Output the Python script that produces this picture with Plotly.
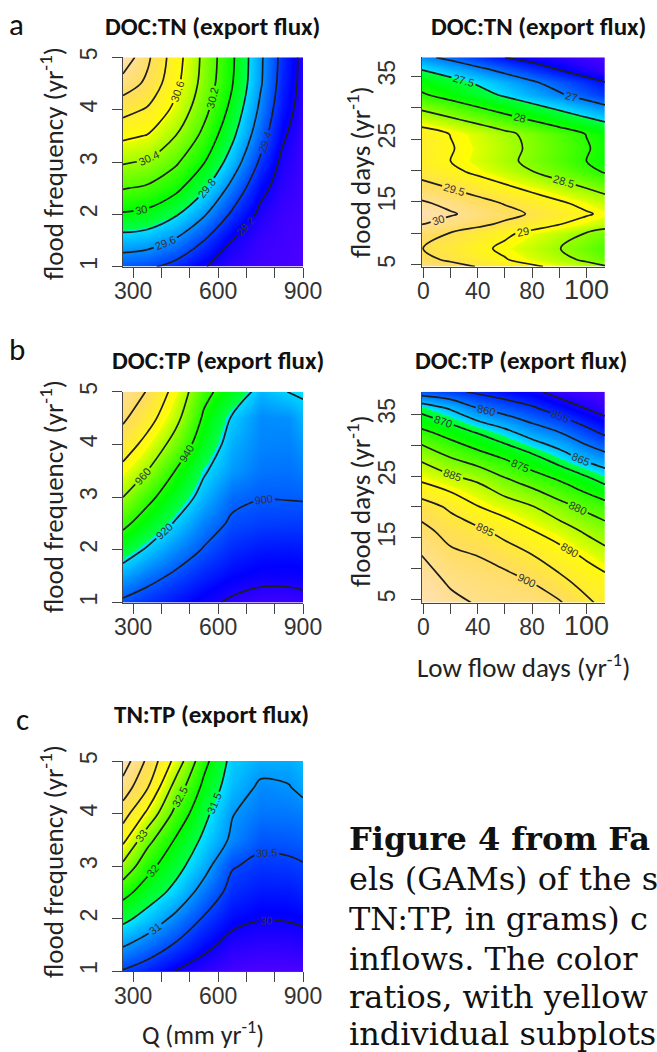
import plotly.graph_objects as go

# ---------------- data ----------------
# Panel a, left: DOC:TN export flux vs Q (x) and flood frequency (y)
q_a = [264, 350, 450, 550, 650, 750, 825, 900]
flood_freq = [1, 1.5, 2, 2.5, 3, 3.5, 4, 4.5, 5]
doc_tn_q = [
    [29.46, 29.43, 29.34, 29.21, 29.12, 29.08, 29.07, 29.05],
    [29.72, 29.69, 29.58, 29.40, 29.20, 29.10, 29.08, 29.06],
    [29.98, 29.95, 29.82, 29.62, 29.37, 29.16, 29.09, 29.07],
    [30.21, 30.17, 30.05, 29.83, 29.54, 29.25, 29.13, 29.08],
    [30.42, 30.38, 30.23, 30.01, 29.71, 29.37, 29.17, 29.09],
    [30.64, 30.59, 30.40, 30.15, 29.84, 29.48, 29.23, 29.10],
    [30.87, 30.78, 30.55, 30.26, 29.94, 29.56, 29.29, 29.13],
    [31.11, 30.96, 30.65, 30.33, 30.01, 29.62, 29.33, 29.15],
    [31.35, 31.04, 30.69, 30.35, 30.03, 29.63, 29.35, 29.15],
]

# Panel a, right: DOC:TN export flux vs low flow days (x) and flood days (y)
low_flow = [-1.2, 20, 40, 60, 80, 100, 120, 133.6]
flood_days_a = [4.7, 5.8, 7.6, 10, 11.5, 13.1, 14.8, 16.5, 18.5, 19.8,
                21.5, 23.5, 25.8, 26.9, 28.5, 30, 32, 34, 36, 38]
doc_tn_days = [
    [29.88, 29.68, 29.48, 29.28, 29.08, 28.88, 28.68, 28.54],
    [29.63, 29.43, 29.23, 29.03, 28.83, 28.63, 28.43, 28.29],
    [29.51, 29.31, 29.11, 28.91, 28.71, 28.51, 28.31, 28.17],
    [29.68, 29.48, 29.28, 29.08, 28.88, 28.68, 28.48, 28.34],
    [30.02, 29.82, 29.62, 29.42, 29.22, 29.02, 28.82, 28.68],
    [30.25, 30.05, 29.85, 29.65, 29.45, 29.25, 29.05, 28.91],
    [30.07, 29.87, 29.67, 29.47, 29.27, 29.07, 28.87, 28.73],
    [29.80, 29.60, 29.40, 29.20, 29.00, 28.80, 28.60, 28.46],
    [29.50, 29.30, 29.10, 28.90, 28.70, 28.50, 28.30, 28.16],
    [29.31, 29.11, 28.91, 28.71, 28.51, 28.31, 28.11, 27.97],
    [29.20, 29.00, 28.80, 28.60, 28.40, 28.20, 28.00, 27.86],
    [29.23, 29.03, 28.83, 28.63, 28.43, 28.23, 28.03, 27.89],
    [29.19, 28.99, 28.79, 28.59, 28.39, 28.19, 27.99, 27.85],
    [29.00, 28.80, 28.60, 28.40, 28.20, 28.00, 27.80, 27.66],
    [28.69, 28.49, 28.29, 28.09, 27.89, 27.69, 27.49, 27.35],
    [28.42, 28.22, 28.02, 27.82, 27.62, 27.42, 27.22, 27.08],
    [28.05, 27.85, 27.65, 27.45, 27.25, 27.05, 26.85, 26.71],
    [27.85, 27.65, 27.45, 27.25, 27.05, 26.85, 26.65, 26.51],
    [27.50, 27.30, 27.10, 26.90, 26.70, 26.50, 26.30, 26.20],
    [27.10, 26.90, 26.70, 26.50, 26.35, 26.25, 26.15, 26.10],
]

# Panel b, left: DOC:TP export flux vs Q and flood frequency
q_bc = [264, 350, 450, 550, 650, 750, 850, 900]
doc_tp_q = [
    [897.5, 893.0, 888.0, 883.0, 878.0, 875.0, 875.0, 876.5],
    [912.4, 904.8, 897.5, 891.0, 886.0, 883.5, 883.5, 884.0],
    [928.0, 918.2, 907.9, 899.0, 892.0, 889.0, 888.5, 889.0],
    [944.0, 931.7, 918.5, 906.3, 898.0, 895.5, 895.0, 895.0],
    [960.0, 944.6, 929.4, 915.0, 903.0, 900.5, 900.7, 901.0],
    [974.6, 960.0, 939.5, 921.6, 910.5, 904.5, 904.0, 906.0],
    [990.2, 973.7, 953.2, 930.1, 914.0, 907.0, 906.5, 910.0],
    [1003.0, 987.5, 964.9, 937.5, 918.5, 908.0, 909.0, 915.0],
    [1012.0, 999.0, 973.4, 944.7, 930.9, 915.0, 920.3, 922.0],
]

# Panel b, right: DOC:TP export flux vs low flow days and flood days
flood_days_b = [4.5, 8, 12, 16, 20, 24, 28, 32, 36, 38.66]
doc_tp_days = [
    [909.5, 906.5, 904.5, 903.5, 903.2, 900.5, 896.0, 893.5],
    [907.8, 904.1, 902.7, 901.7, 899.7, 896.3, 892.9, 891.6],
    [905.1, 901.3, 900.0, 898.0, 895.3, 892.2, 889.3, 887.0],
    [901.7, 898.1, 896.3, 893.3, 890.3, 887.7, 884.3, 882.3],
    [897.4, 894.1, 890.2, 887.7, 885.3, 881.8, 878.8, 877.0],
    [890.0, 887.3, 884.9, 881.3, 878.3, 875.4, 872.0, 869.3],
    [883.9, 880.0, 877.3, 874.5, 871.3, 867.4, 863.6, 861.7],
    [876.3, 873.1, 869.8, 866.5, 862.8, 860.2, 856.6, 854.2],
    [868.1, 864.4, 860.0, 857.7, 855.6, 852.7, 849.8, 848.0],
    [857.5, 856.1, 854.2, 852.6, 851.1, 848.2, 847.0, 846.5],
]

# Panel c: TN:TP export flux vs Q and flood frequency
tn_tp_q = [
    [30.47, 30.28, 29.99, 29.80, 29.65, 29.60, 29.60, 29.63],
    [31.05, 30.79, 30.46, 30.12, 29.86, 29.80, 29.81, 29.85],
    [31.63, 31.31, 30.89, 30.46, 30.12, 30.02, 30.03, 30.07],
    [32.16, 31.77, 31.36, 30.81, 30.35, 30.21, 30.22, 30.28],
    [32.88, 32.16, 31.67, 31.17, 30.53, 30.40, 30.42, 30.47],
    [33.63, 32.66, 31.96, 31.41, 30.92, 30.60, 30.63, 30.68],
    [34.23, 33.40, 32.35, 31.63, 31.02, 30.80, 30.82, 30.85],
    [34.79, 34.04, 32.80, 31.88, 31.24, 30.93, 30.98, 31.10],
    [35.28, 34.40, 33.34, 32.15, 31.35, 31.15, 31.15, 31.25],
]

# tick labels
q_ticks = [300, 400, 500, 600, 700, 800, 900]
q_ticktext = ["300", "", "", "600", "", "", "900"]
freq_ticks = [1, 2, 3, 4, 5]
lf_ticks = [0, 20, 40, 60, 80, 100, 120]
lf_ticktext = ["0", "", "40", "", "80", "", "<span style='font-size:27px'>100</span>"]
fd_ticks = [5, 10, 15, 20, 25, 30, 35]
fd_ticktext = ["5", "", "15", "", "25", "", "35"]

# ---------------- style ----------------
W, H = 657, 1052
TOPO = [
    [0.0, "#4C00FF"], [0.0833, "#0000FF"], [0.1667, "#004CFF"], [0.25, "#0099FF"],
    [0.3333, "#00E5FF"], [0.3334, "#00FF4D"], [0.4167, "#00FF00"], [0.5, "#4DFF00"],
    [0.5833, "#99FF00"], [0.6666, "#E6FF00"], [0.6667, "#FFFF00"], [0.8333, "#FFDE59"],
    [1.0, "#FFE0B3"],
]
SANS = "Liberation Sans, Arial, sans-serif"
CAL = "Carlito, Lato, Open Sans, sans-serif"


def px(x):
    return x / W


def py(y):
    return 1 - y / H


def contour(x, y, z, start, end, size, zmin, zmax, n):
    return go.Contour(
        x=x, y=y, z=z, xaxis="x" + n, yaxis="y" + n,
        colorscale=TOPO, zmin=zmin, zmax=zmax, showscale=False,
        contours=dict(start=start, end=end, size=size, coloring="heatmap",
                      showlabels=True, labelformat=".4~g",
                      labelfont=dict(size=11, color="#333", family=SANS)),
        line=dict(color="#1e1e1e", width=1.7, smoothing=1.0),
        hoverinfo="skip",
    )


fig = go.Figure()
fig.add_trace(contour(q_a, flood_freq, doc_tn_q, 29.2, 31.2, 0.2, 29.05, 31.35, "1"))
fig.add_trace(contour(low_flow, flood_days_a, doc_tn_days, 26.5, 30, 0.5, 26.1, 30.25, "2"))
fig.add_trace(contour(q_bc, flood_freq, doc_tp_q, 880, 1000, 20, 873, 1022, "3"))
fig.add_trace(contour(low_flow, flood_days_b, doc_tp_days, 850, 905, 5, 846.5, 909.5, "4"))
fig.add_trace(contour(q_bc, flood_freq, tn_tp_q, 30, 35, 0.5, 29.6, 35.3, "5"))

axis_common = dict(showgrid=False, zeroline=False, showline=True, linecolor="#444",
                   linewidth=1.2, ticks="outside", ticklen=10, tickwidth=1.3,
                   tickcolor="#444", tickfont=dict(family=SANS, size=23, color="#333"))

left_x = [px(123), px(303)]
right_x = [px(421.7), px(605)]
dom_a = [py(266.7), py(57.3)]
dom_b = [py(602.5), py(391.7)]
dom_c = [py(971), py(761)]

layout = dict(
    width=W, height=H, margin=dict(l=0, r=0, t=0, b=0, autoexpand=False),
    paper_bgcolor="white", plot_bgcolor="white", showlegend=False,
)
for n, xd, yd, xr, yr, kind in [
    ("1", left_x, dom_a, [264, 900], [1, 5], "q"),
    ("2", right_x, dom_a, [-1.2, 133.6], [4.7, 38.0], "d"),
    ("3", left_x, dom_b, [264, 900], [1, 5], "q"),
    ("4", right_x, dom_b, [-1.2, 133.6], [4.5, 38.66], "d"),
    ("5", left_x, dom_c, [264, 900], [1, 5], "q"),
]:
    xa = dict(axis_common, domain=xd, range=xr, anchor="y" + n, ticklabelstandoff=-6)
    ya = dict(axis_common, domain=yd, range=yr, anchor="x" + n, tickangle=-90,
              ticklabelstandoff=6)
    if kind == "q":
        xa.update(tickvals=q_ticks, ticktext=q_ticktext)
        ya.update(tickvals=freq_ticks)
    else:
        xa.update(tickvals=lf_ticks, ticktext=lf_ticktext)
        ya.update(tickvals=fd_ticks, ticktext=fd_ticktext)
    key = "" if n == "1" else n
    layout["xaxis" + key] = xa
    layout["yaxis" + key] = ya
fig.update_layout(**layout)

ann = []


def text(x, y, s, size, family=CAL, bold=False, angle=0, color="#111", xanchor="center"):
    if bold:
        s = "<b>" + s + "</b>"
    ann.append(dict(x=px(x), y=py(y), xref="paper", yref="paper", text=s, showarrow=False,
                    font=dict(family=family, size=size, color=color), textangle=angle,
                    xanchor=xanchor, yanchor="middle"))


# panel letters
text(16, 24, "a", 31)
text(17, 349, "b", 31)
text(22, 719, "c", 31)
# panel titles
text(212, 26, "DOC:TN (export flux)", 25, bold=True)
text(538, 26, "DOC:TN (export flux)", 25, bold=True)
text(218, 361, "DOC:TP (export flux)", 25, bold=True)
text(521, 361, "DOC:TP (export flux)", 25, bold=True)
text(211, 714, "TN:TP (export flux)", 25, bold=True)
# axis titles
yr = "yr<sup>-1</sup>"
text(52, 164, "flood frequency (" + yr + ")", 27, angle=-90, color="#222")
text(52, 497, "flood frequency (" + yr + ")", 27, angle=-90, color="#222")
text(52, 862, "flood frequency (" + yr + ")", 27, angle=-90, color="#222")
text(359, 172, "flood days (" + yr + ")", 27, angle=-90, color="#222")
text(359, 501, "flood days (" + yr + ")", 27, angle=-90, color="#222")
text(523, 666, "Low flow days (" + yr + ")", 27, color="#222")
text(203, 1033, "Q (mm " + yr + ")", 26, color="#222")

# caption (cut off at the right edge in the reference)
SERIF = "DejaVu Serif, Liberation Serif, serif"
caption = [
    ("<b>Figure 4 from Fa</b>", 839),
    ("els (GAMs) of the s", 879),
    ("TN:TP, in grams) c", 919),
    ("inflows. The color", 959),
    ("ratios, with yellow", 997),
    ("individual subplots", 1034),
]
for s, y in caption:
    text(347, y, s, 32, family=SERIF, color="#111", xanchor="left")

fig.update_layout(annotations=ann)
# the page body has a default 8px margin; remove it so the figure sits at the window origin
fig.write_html("out.html", config={"displayModeBar": False},
               post_script="document.body.style.margin='0';")
